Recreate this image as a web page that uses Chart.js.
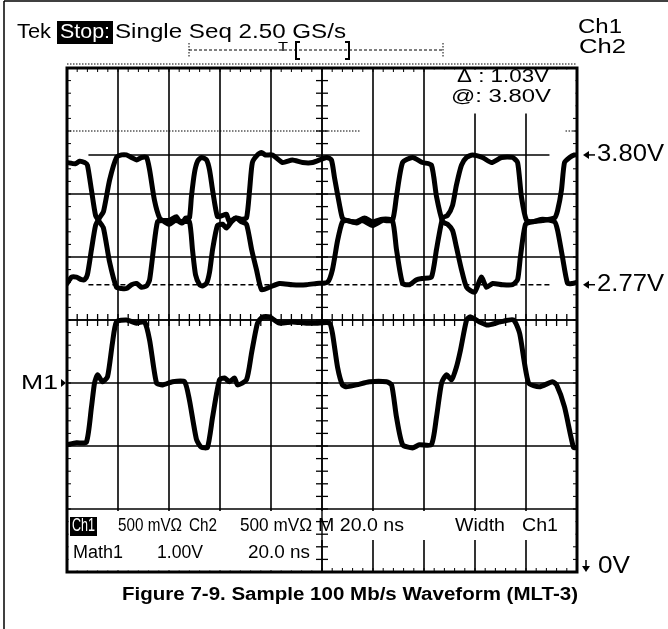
<!DOCTYPE html>
<html>
<head>
<meta charset="utf-8">
<script src="https://cdn.jsdelivr.net/npm/chart.js@4.4.1/dist/chart.umd.min.js"></script>
<style>
  html, body { margin: 0; padding: 0; background: #fff; }
  canvas { display: block; }
</style>
</head>
<body>
<canvas id="scope" width="668" height="629"></canvas>
<script>
// horizontal: 20 ns/div, vertical: Ch1/Ch2 500 mV/div, Math1 1.00 V/div
const timeDivs = [0, 20, 40, 60, 80, 100, 120, 140, 160, 180, 200];
const mathDivs = [-3, -2, -1, 0, 1, 2, 3, 4, 5];
const cursorLevels = [3.80, 2.77];
const cursorSpan = [8.4, 189.2];

// [ns, V]
const ch1Trace = [
  [0, 2.78], [1.8, 2.83], [3.7, 2.83], [5.7, 2.81], [6.9, 2.81], [8.0, 2.85], [9.6, 3.05], [11.2, 3.24],
  [12.7, 3.30], [14.3, 3.35], [16.7, 3.60], [19.4, 3.78], [21.4, 3.80], [23.3, 3.80], [25.3, 3.78],
  [27.3, 3.76], [29.2, 3.78], [31.2, 3.78], [32.4, 3.68], [34.3, 3.44], [36.3, 3.30], [38.2, 3.27],
  [40.2, 3.25], [42.5, 3.28], [45.3, 3.27], [48.0, 3.27], [49.2, 3.05], [50.4, 2.85], [52.0, 2.77],
  [53.1, 2.76], [54.7, 2.78], [55.9, 2.87], [57.1, 3.05], [59.0, 3.24], [61.0, 3.25], [62.5, 3.22],
  [64.5, 3.27], [66.5, 3.30], [68.4, 3.29], [70.4, 3.30], [71.6, 3.52], [72.7, 3.74], [74.7, 3.80],
  [76.3, 3.82], [77.8, 3.80], [80.6, 3.80], [84.5, 3.74], [88.4, 3.76], [92.4, 3.74], [96.3, 3.74],
  [101.8, 3.78], [103.7, 3.76], [104.9, 3.62], [106.9, 3.40], [108.0, 3.30], [109.6, 3.28], [113.5, 3.27],
  [116.7, 3.30], [119.8, 3.27], [123.7, 3.29], [127.6, 3.28], [129.2, 3.05], [131.6, 2.78], [134.3, 2.77],
  [137.1, 2.81], [139.4, 2.82], [142.9, 2.83], [144.9, 3.05], [147.3, 3.30], [149.2, 3.32], [151.2, 3.40],
  [152.7, 3.56], [154.7, 3.72], [156.7, 3.78], [159.0, 3.80], [162.9, 3.78], [166.5, 3.74], [170.4, 3.78],
  [174.7, 3.78], [176.7, 3.74], [178.2, 3.47], [180.2, 3.28], [182.5, 3.27], [186.5, 3.29], [191.2, 3.27],
  [192.4, 3.20], [194.3, 2.99], [196.3, 2.78], [198.2, 2.78], [200, 2.79]
];

const ch2Trace = [
  [0, 3.74], [3.3, 3.73], [4.9, 3.75], [6.9, 3.74], [8.0, 3.72], [9.6, 3.52], [11.2, 3.32], [12.7, 3.27],
  [14.3, 3.22], [16.7, 2.95], [19.4, 2.75], [21.4, 2.74], [23.3, 2.74], [25.3, 2.77], [27.3, 2.78],
  [29.2, 2.75], [31.2, 2.76], [32.4, 2.81], [33.9, 3.05], [35.5, 3.27], [37.5, 3.28], [40.2, 3.28],
  [42.9, 3.31], [44.1, 3.27], [45.3, 3.26], [46.5, 3.30], [48.0, 3.30], [48.8, 3.47], [50.0, 3.66],
  [51.2, 3.75], [52.7, 3.78], [54.7, 3.76], [55.9, 3.68], [57.1, 3.52], [59.0, 3.31], [61.0, 3.32],
  [62.5, 3.33], [63.7, 3.27], [66.1, 3.30], [68.4, 3.27], [70.4, 3.25], [72.4, 3.05], [74.3, 2.89],
  [76.3, 2.73], [79.4, 2.75], [83.3, 2.78], [88.4, 2.77], [93.9, 2.77], [97.8, 2.78], [102.2, 2.79],
  [104.1, 2.89], [106.1, 3.12], [108.0, 3.27], [109.6, 3.28], [113.5, 3.26], [115.9, 3.28], [119.8, 3.24],
  [123.7, 3.28], [127.6, 3.28], [129.2, 3.47], [131.6, 3.74], [135.5, 3.78], [139.4, 3.74], [142.9, 3.72],
  [144.9, 3.47], [147.3, 3.27], [149.2, 3.25], [151.2, 3.20], [152.7, 3.07], [154.7, 2.89], [156.7, 2.75],
  [159.8, 2.71], [162.5, 2.83], [164.5, 2.75], [166.9, 2.78], [170.8, 2.77], [174.7, 2.77], [176.7, 2.81],
  [177.8, 2.99], [179.8, 3.25], [182.5, 3.27], [186.5, 3.28], [191.2, 3.30], [192.4, 3.36], [193.9, 3.52],
  [195.1, 3.74], [197.1, 3.78], [199.0, 3.80], [200, 3.80]
];

const math1Trace = [
  [0, -0.98], [3.7, -0.95], [7.6, -0.94], [9.6, -0.38], [10.8, 0.00], [12.0, 0.13], [13.9, 0.02],
  [15.9, 0.10], [17.8, 0.63], [19.4, 0.97], [23.3, 1.00], [27.3, 0.95], [30.4, 0.97], [32.4, 0.68],
  [35.1, 0.00], [37.5, -0.03], [41.4, 0.02], [46.1, 0.02], [48.0, -0.27], [50.8, -0.90], [52.7, -1.02],
  [55.1, -1.02], [57.1, -0.54], [59.8, 0.05], [61.8, 0.08], [63.7, 0.02], [65.7, 0.08], [66.9, -0.03],
  [70.4, 0.05], [72.4, 0.48], [74.7, 0.95], [76.7, 1.05], [79.4, 1.05], [83.3, 0.95], [88.4, 0.97],
  [93.9, 0.95], [97.8, 0.95], [102.9, 0.95], [104.1, 0.79], [106.1, 0.25], [108.0, -0.03], [109.6, -0.06],
  [113.5, -0.03], [118.6, 0.02], [125.3, 0.02], [127.3, -0.03], [129.2, -0.54], [131.6, -0.98],
  [135.5, -1.03], [138.2, -0.98], [142.9, -0.98], [144.9, -0.54], [146.9, 0.00], [148.8, 0.13],
  [150.8, 0.05], [152.7, 0.25], [154.3, 0.52], [156.7, 1.00], [158.2, 1.05], [161.8, 0.97], [164.9, 0.92],
  [170.0, 0.97], [175.1, 1.00], [177.5, 0.79], [181.0, 0.00], [185.3, -0.06], [190.4, 0.02],
  [192.0, -0.03], [195.1, -0.38], [198.6, -1.02], [200, -1.03]
];

const statusRow1 = ['500 mVΩ', 'Ch2', '500 mVΩ', 'M 20.0 ns', 'Width', 'Ch1'];
const statusRow2 = ['Math1', '1.00V', '20.0 ns'];

const FONT = '"Liberation Sans", Arial, sans-serif';
const toXY = arr => arr.map(p => ({ x: p[0], y: p[1] }));

function seg(ctx, x1, y1, x2, y2) {
    ctx.beginPath();
    ctx.moveTo(x1, y1);
    ctx.lineTo(x2, y2);
    ctx.stroke();
}

// text squeezed/stretched so it sits between left and right
function txt(ctx, str, left, right, cy, size, weight, color) {
    ctx.font = `${weight || 'normal'} ${size}px ${FONT}`;
    const w = ctx.measureText(str).width;
    const sx = right ? (right - left) / w : 1;
    ctx.save();
    ctx.translate(left, cy);
    ctx.scale(sx, 1);
    ctx.fillStyle = color || '#000';
    ctx.textBaseline = 'middle';
    ctx.fillText(str, 0, 0);
    ctx.restore();
}

function leftArrow(ctx, x, y) {
    ctx.beginPath();
    ctx.moveTo(x, y);
    ctx.lineTo(x + 6, y - 4);
    ctx.lineTo(x + 6, y + 4);
    ctx.closePath();
    ctx.fill();
    ctx.lineWidth = 1.5;
    seg(ctx, x + 5, y, x + 12, y);
}

const scopeDraw = {
    id: 'scopeDraw',
    beforeDatasetsDraw(chart) {
        const { ctx, chartArea: a, scales } = chart;
        const xs = scales.x, ym = scales.yMath;
        ctx.save();
        ctx.strokeStyle = '#000';

        ctx.lineWidth = 1.6;
        timeDivs.forEach(t => {
            const px = xs.getPixelForValue(t);
            seg(ctx, px, a.top, px, a.bottom);
        });
        mathDivs.forEach(v => {
            const py = ym.getPixelForValue(v);
            if (v === 4) {
                ctx.lineWidth = 1;
                ctx.setLineDash([1.5, 1.5]);
                seg(ctx, a.left, py, xs.getPixelForValue(115), py);
                seg(ctx, xs.getPixelForValue(195.5), py, a.right, py);
                ctx.setLineDash([]);
                ctx.lineWidth = 1.6;
            } else {
                seg(ctx, a.left, py, a.right, py);
            }
        });

        // fine graduations along the frame
        ctx.lineWidth = 1;
        for (let t = 0; t <= 200; t += 4) {
            const px = xs.getPixelForValue(t);
            seg(ctx, px, a.top, px, a.top + 4);
            seg(ctx, px, a.bottom - 4, px, a.bottom);
        }
        for (let v = -3; v <= 5.001; v += 0.2) {
            const py = ym.getPixelForValue(v);
            seg(ctx, a.left, py, a.left + 4, py);
            seg(ctx, a.right - 4, py, a.right, py);
        }

        // readout panels cover the graticule
        ctx.fillStyle = '#fff';
        ctx.fillRect(430, a.top + 1.5, a.right - 431.5, 44);
        ctx.fillRect(a.left + 1.5, 511, a.right - a.left - 3, 29);
        ctx.fillRect(a.left + 1.5, 540, 318 - a.left, a.bottom - 541.5);

        // centre cross
        const cx = xs.getPixelForValue(100), cy = ym.getPixelForValue(1);
        ctx.lineWidth = 1.4;
        seg(ctx, cx, a.top, cx, a.bottom);
        seg(ctx, a.left, cy, a.right, cy);
        ctx.lineWidth = 1.3;
        for (let v = -3; v <= 5.001; v += 0.2) {
            const py = ym.getPixelForValue(v);
            seg(ctx, cx - 6, py, cx + 6, py);
        }
        for (let t = 0; t <= 200; t += 4) {
            const px = xs.getPixelForValue(t);
            seg(ctx, px, cy - 6, px, cy + 6);
        }

        ctx.lineWidth = 3;
        ctx.strokeRect(a.left, a.top, a.right - a.left, a.bottom - a.top);
        ctx.restore();
    },
    afterDraw(chart) {
        const { ctx, chartArea: a, scales } = chart;
        ctx.save();
        ctx.strokeStyle = '#000';
        ctx.fillStyle = '#000';

        // page frame
        ctx.lineWidth = 1.5;
        seg(ctx, 4, 1, 668, 1);
        seg(ctx, 4, 1, 4, 629);

        // header
        txt(ctx, 'Tek', 17, 51, 32, 21);
        ctx.fillRect(57, 21, 56, 23);
        txt(ctx, 'Stop:', 60, 110, 32, 21, 'normal', '#fff');
        txt(ctx, 'Single Seq 2.50 GS/s', 115, 346, 32, 21);
        txt(ctx, 'Ch1', 578, 622, 27, 21);
        txt(ctx, 'Ch2', 579, 626, 47, 21);

        // record / trigger bar
        ctx.lineWidth = 1;
        ctx.setLineDash([3, 2]);
        seg(ctx, 189, 50, 443, 50);
        ctx.setLineDash([1.5, 1.5]);
        seg(ctx, 189, 43, 189, 58);
        seg(ctx, 443, 43, 443, 58);
        seg(ctx, a.left, 64, a.right, 64);
        ctx.setLineDash([]);
        txt(ctx, 'T', 278, 288, 47, 13);
        ctx.lineWidth = 2;
        ctx.beginPath();
        ctx.moveTo(300, 42); ctx.lineTo(296, 42); ctx.lineTo(296, 59); ctx.lineTo(300, 59);
        ctx.moveTo(345, 42); ctx.lineTo(349, 42); ctx.lineTo(349, 59); ctx.lineTo(345, 59);
        ctx.stroke();

        // cursor readout
        txt(ctx, 'Δ : 1.03V', 457, 549, 77, 19);
        txt(ctx, '@: 3.80V', 451, 551, 97, 19);

        // cursor level markers
        const y1 = scales.y.getPixelForValue(cursorLevels[0]);
        const y2 = scales.y.getPixelForValue(cursorLevels[1]);
        leftArrow(ctx, 583, y1);
        leftArrow(ctx, 583, y2);
        txt(ctx, cursorLevels[0].toFixed(2) + 'V', 597, 664, y1, 23);
        txt(ctx, cursorLevels[1].toFixed(2) + 'V', 597, 664, y2, 23);

        // ground is off screen, below
        ctx.lineWidth = 1.5;
        seg(ctx, 586, 560, 586, 567);
        ctx.beginPath();
        ctx.moveTo(582, 566); ctx.lineTo(590, 566); ctx.lineTo(586, 572);
        ctx.closePath();
        ctx.fill();
        txt(ctx, '0V', 598, 630, 567, 23);

        // math reference
        const m0 = scales.yMath.getPixelForValue(0);
        txt(ctx, 'M1', 21, 58, m0, 21);
        ctx.beginPath();
        ctx.moveTo(61, m0 - 4); ctx.lineTo(66, m0); ctx.lineTo(61, m0 + 4);
        ctx.closePath();
        ctx.fill();

        // status readout
        ctx.fillRect(70, 517, 27, 19);
        txt(ctx, 'Ch1', 72, 95, 526, 19, 'normal', '#fff');
        const row1Pos = [[118, 182], [189, 217], [240, 312], [318, 404], [455, 505], [522, 558]];
        statusRow1.forEach((s, i) => txt(ctx, s, row1Pos[i][0], row1Pos[i][1], 526, 19));
        const row2Pos = [[73, 123], [157, 203], [248, 310]];
        statusRow2.forEach((s, i) => txt(ctx, s, row2Pos[i][0], row2Pos[i][1], 553, 18));

        txt(ctx, 'Figure 7-9. Sample 100 Mb/s Waveform (MLT-3)', 122, 578, 595, 18, 'bold');
        ctx.restore();
    }
};

const traceStyle = {
    borderColor: '#000',
    borderWidth: 5,
    pointRadius: 0,
    fill: false,
    tension: 0.2,
    borderJoinStyle: 'round',
    borderCapStyle: 'round'
};

const ctx = document.getElementById('scope').getContext('2d');
new Chart(ctx, {
    type: 'line',
    data: {
        datasets: [
            { label: 'Ch1', data: toXY(ch1Trace), yAxisID: 'y', ...traceStyle },
            { label: 'Ch2', data: toXY(ch2Trace), yAxisID: 'y', ...traceStyle },
            { label: 'Math1', data: toXY(math1Trace), yAxisID: 'yMath', ...traceStyle },
            {
                label: 'cursor 1',
                data: cursorSpan.map(t => ({ x: t, y: cursorLevels[0] })),
                yAxisID: 'y', borderColor: '#000', borderWidth: 1.5, pointRadius: 0
            },
            {
                label: 'cursor 2',
                data: cursorSpan.map(t => ({ x: t, y: cursorLevels[1] })),
                yAxisID: 'y', borderColor: '#000', borderWidth: 1.5, pointRadius: 0,
                borderDash: [5, 3]
            }
        ]
    },
    options: {
        responsive: false,
        animation: false,
        layout: { padding: { left: 67, right: 91, top: 68, bottom: 57 } },
        plugins: { legend: { display: false }, tooltip: { enabled: false } },
        scales: {
            x: { type: 'linear', min: 0, max: 200, display: false },
            y: { min: 0.49, max: 4.49, display: false },
            yMath: { min: -3, max: 5, display: false }
        }
    },
    plugins: [scopeDraw]
});
</script>
</body>
</html>
